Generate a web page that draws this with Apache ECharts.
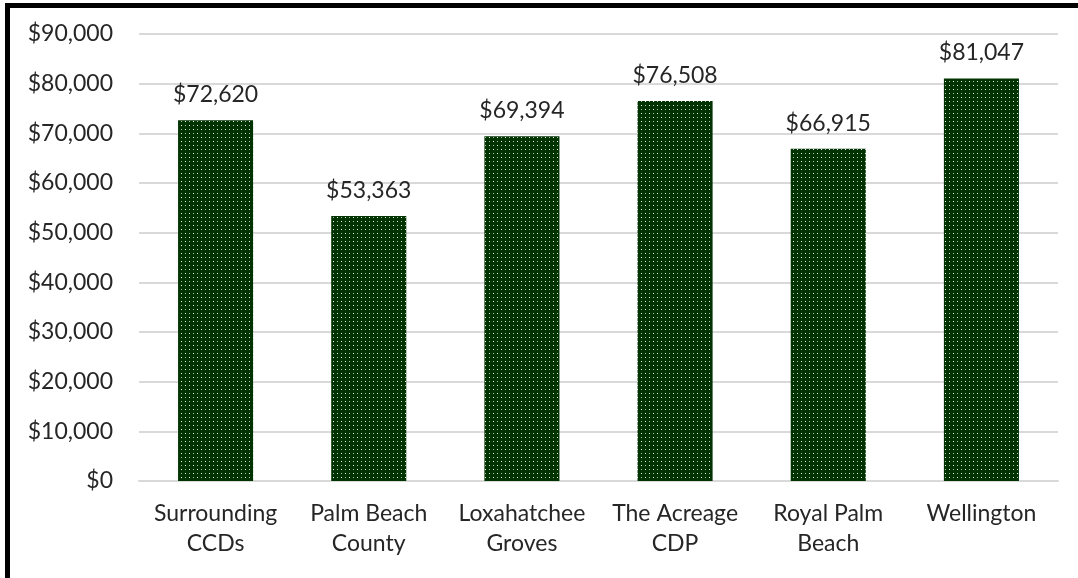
<!DOCTYPE html>
<html>
<head>
<meta charset="utf-8">
<script src="https://cdn.jsdelivr.net/npm/echarts@6/dist/echarts.min.js"></script>
<style>
html,body{margin:0;padding:0;background:#fff;}
#frame{position:absolute;left:5px;top:3px;width:1200px;height:570px;border-left:5px solid #000;border-top:5px solid #000;border-bottom:5px solid #000;}
#chart{position:absolute;left:0;top:0;width:1078px;height:578px;}
</style>
</head>
<body>
<div id="frame"></div>
<div id="chart"></div>
<script>
const categories = ['Surrounding\nCCDs', 'Palm Beach\nCounty', 'Loxahatchee\nGroves', 'The Acreage\nCDP', 'Royal Palm\nBeach', 'Wellington'];
const values = [72620, 53363, 69394, 76508, 66915, 81047];
const yTicks = { min: 0, max: 90000, interval: 10000 };

function makePattern() {
  const c = document.createElement('canvas');
  c.width = 8; c.height = 8;
  const g = c.getContext('2d');
  g.fillStyle = '#003300';
  g.fillRect(0, 0, 8, 8);
  g.fillStyle = '#ffffff';
  g.fillRect(1, 1, 1, 1);
  g.fillRect(5, 5, 1, 1);
  g.fillStyle = '#a9bfa9';
  g.fillRect(5, 1, 1, 1);
  g.fillRect(1, 5, 1, 1);
  return c;
}

const fmt = v => '$' + v.toLocaleString('en-US');
const chart = echarts.init(document.getElementById('chart'), null, { renderer: 'canvas' });
const font = 'Lato';
chart.setOption({
  animation: false,
  grid: { left: 139, right: 20, top: 34, bottom: 97 },
  xAxis: {
    type: 'category',
    data: categories,
    axisLine: { lineStyle: { color: '#d9d9d9', width: 2 } },
    axisTick: { show: false },
    axisLabel: { color: '#262626', fontFamily: font, fontSize: 23, lineHeight: 30, margin: 18, interval: 0 }
  },
  yAxis: {
    type: 'value',
    min: yTicks.min, max: yTicks.max, interval: yTicks.interval,
    axisLine: { show: false },
    axisTick: { show: false },
    splitLine: { lineStyle: { color: '#d9d9d9', width: 2 } },
    axisLabel: { color: '#262626', fontFamily: font, fontSize: 23, margin: 26, formatter: fmt }
  },
  series: [{
    type: 'bar',
    data: values,
    barWidth: '49%',
    itemStyle: { color: { image: makePattern(), repeat: 'repeat' } },
    label: { show: true, position: 'top', distance: 14, color: '#262626', fontFamily: font, fontSize: 23, formatter: p => fmt(p.value) }
  }]
});
</script>
</body>
</html>
